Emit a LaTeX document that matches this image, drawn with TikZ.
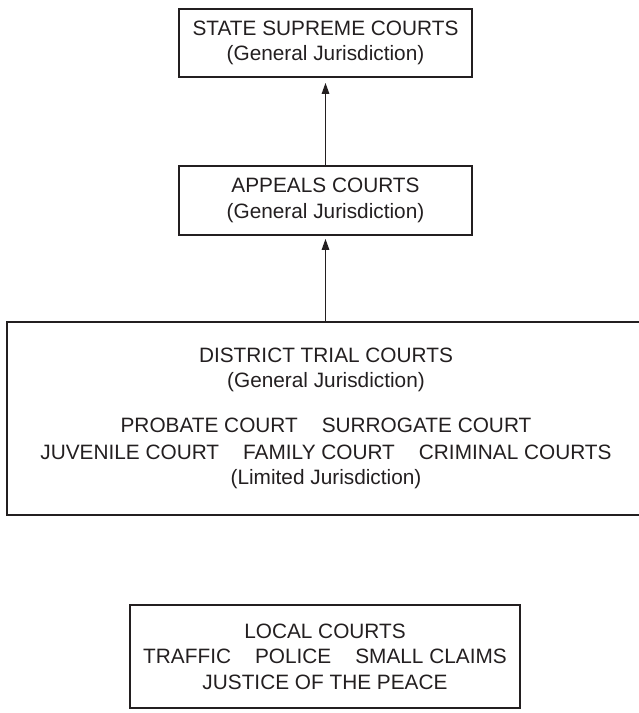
\documentclass[tikz,border=0pt]{standalone}
\usepackage{fontspec}
\setmainfont{Liberation Sans}
\usetikzlibrary{arrows.meta}
\definecolor{ink}{HTML}{231F20}
\begin{document}
\begin{tikzpicture}[x=1pt,y=-1pt,
  courtbox/.style={draw=ink, line width=1.8pt, align=center, inner sep=0pt,
    text=ink, font=\fontsize{20.8}{25.5}\selectfont},
  uparrow/.style={draw=ink, line width=1.3pt, -{Triangle[length=11pt,width=7.5pt]}}]
\useasboundingbox (0,0) rectangle (639,713);
\clip (0,0) rectangle (639,713);
\node[courtbox, minimum width=293pt, minimum height=68pt] (supreme) at (325.5,43)
  {STATE SUPREME COURTS\\(General Jurisdiction)};
\node[courtbox, minimum width=293pt, minimum height=69pt] (appeals) at (325.5,200.5)
  {APPEALS COURTS\\(General Jurisdiction)};
\node[courtbox, minimum width=638pt, minimum height=193pt] (district) at (326,418.5)
  {DISTRICT TRIAL COURTS\\(General Jurisdiction)\\[19pt]
   PROBATE COURT\hspace{24pt}SURROGATE COURT\\[1.5pt]
   JUVENILE COURT\hspace{24pt}FAMILY COURT\hspace{24pt}CRIMINAL COURTS\\
   (Limited Jurisdiction)};
\node[courtbox, minimum width=390pt, minimum height=103pt] (local) at (325,656.5)
  {LOCAL COURTS\\TRAFFIC\hspace{24pt}POLICE\hspace{24pt}SMALL CLAIMS\\JUSTICE OF THE PEACE};
\draw[uparrow, shorten >=5pt] (appeals.north) -- (supreme.south);
\draw[uparrow, shorten >=3pt] (district.north -| appeals.south) -- (appeals.south);
\end{tikzpicture}
\end{document}
